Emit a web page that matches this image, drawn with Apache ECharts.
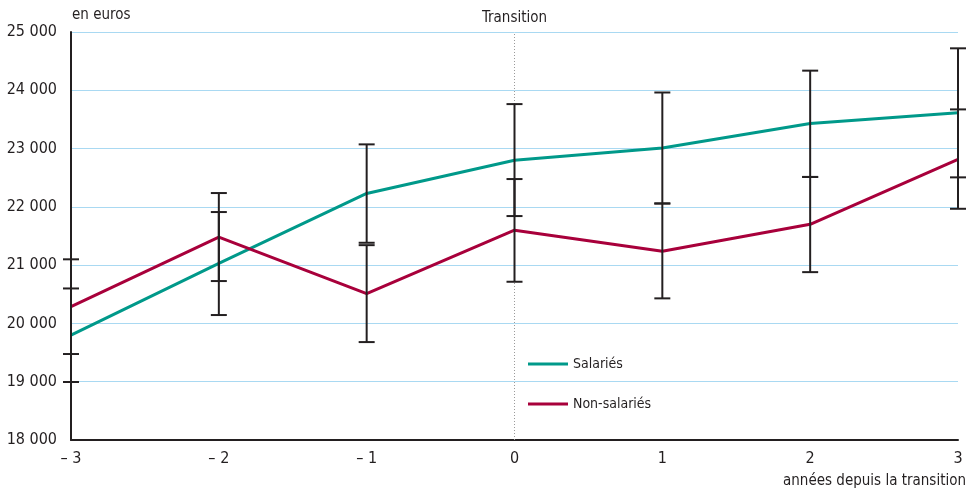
<!DOCTYPE html>
<html>
<head>
<meta charset="utf-8">
<script src="https://cdn.jsdelivr.net/npm/echarts@6/dist/echarts.min.js"></script>
<style>html,body{margin:0;padding:0;background:#fff}#chart{width:974px;height:491px}</style>
</head>
<body>
<div id="chart"></div>
<script>
var xs = [-3, -2, -1, 0, 1, 2, 3];
var salaries = [19800, 21030, 22230, 22800, 23010, 23430, 23614];
var nonSalaries = [20290, 21480, 20510, 21600, 21240, 21700, 22815];
var salLow = [18995, 20144, 21384, 21842, 22058, 22513, 22506];
var salHigh = [20600, 21911, 23072, 23763, 23962, 24337, 24720];
var nonLow = [19475, 20727, 19680, 20715, 20430, 20880, 21967];
var nonHigh = [21100, 22237, 21343, 22477, 22058, 22513, 23672];
var yTicks = [18000, 19000, 20000, 21000, 22000, 23000, 24000, 25000];

var FONT = "'Liberation Sans Narrow', 'DejaVu Sans Condensed', 'Liberation Sans', sans-serif";
var INK = '#231f20';

var chart = echarts.init(document.getElementById('chart'));

function pairs(vals) { return xs.map(function (x, i) { return [x, vals[i]]; }); }
function bars(lo, hi) { return xs.map(function (x, i) { return [x, lo[i], hi[i]]; }); }

function renderErr(params, api) {
  var x = api.value(0);
  var lo = api.coord([x, api.value(1)]);
  var hi = api.coord([x, api.value(2)]);
  var w = 8;
  var st = { stroke: INK, lineWidth: 2 };
  return {
    type: 'group',
    children: [
      { type: 'line', shape: { x1: lo[0], y1: lo[1], x2: hi[0], y2: hi[1] }, style: st },
      { type: 'line', shape: { x1: lo[0] - w, y1: lo[1], x2: lo[0] + w, y2: lo[1] }, style: st },
      { type: 'line', shape: { x1: hi[0] - w, y1: hi[1], x2: hi[0] + w, y2: hi[1] }, style: st }
    ]
  };
}

var option = {
  animation: false,
  textStyle: { fontFamily: FONT },
  grid: { left: 71, right: 16, top: 32, bottom: 51, containLabel: false },
  legend: {
    data: ['Salariés', 'Non-salariés'],
    orient: 'vertical',
    left: 523,
    top: 352,
    icon: 'rect',
    itemWidth: 40,
    itemHeight: 3,
    itemGap: 26,
    textStyle: { fontFamily: FONT, fontSize: 14, color: INK }
  },
  xAxis: {
    type: 'value',
    min: -3, max: 3, interval: 1,
    axisLine: { show: true, onZero: false, lineStyle: { color: INK, width: 2 } },
    axisTick: { show: false },
    splitLine: { show: false },
    axisLabel: {
      margin: 11,
      fontFamily: FONT, fontSize: 16, color: INK,
      formatter: function (v) { return v < 0 ? '\u2013 ' + (-v) : String(v); }
    }
  },
  yAxis: {
    type: 'value',
    min: yTicks[0], max: yTicks[yTicks.length - 1], interval: 1000,
    axisLine: { show: true, onZero: false, lineStyle: { color: INK, width: 2 } },
    axisTick: { show: false },
    splitLine: { show: true, lineStyle: { color: '#a9d9f2', width: 1 } },
    axisLabel: {
      margin: 14,
      fontFamily: FONT, fontSize: 16, color: INK,
      formatter: function (v) { return String(v).replace(/\B(?=(\d{3})+(?!\d))/g, ' '); }
    }
  },
  graphic: [
    { type: 'text', left: 72, top: 8, style: { text: 'en euros', font: '15px ' + FONT, fill: INK } },
    { type: 'text', right: 8, top: 474, style: { text: 'années depuis la transition', font: '15px ' + FONT, fill: INK } }
  ],
  series: [
    {
      name: 'Salariés', type: 'line', data: pairs(salaries),
      symbol: 'none', lineStyle: { color: '#00998a', width: 3 }, itemStyle: { color: '#00998a' }, z: 3,
      markLine: {
        silent: true, symbol: ['none', 'none'], z: 1,
        lineStyle: { color: '#9a9a9a', type: [1, 2], width: 1, opacity: 1 },
        emphasis: { disabled: true },
        label: { show: true, position: 'end', formatter: 'Transition', fontFamily: FONT, fontSize: 15, color: INK, distance: 6 },
        data: [{ xAxis: 0 }]
      }
    },
    {
      name: 'Non-salariés', type: 'line', data: pairs(nonSalaries),
      symbol: 'none', lineStyle: { color: '#a8003b', width: 3 }, itemStyle: { color: '#a8003b' }, z: 3
    },
    { name: 'errSal', type: 'custom', renderItem: renderErr, data: bars(salLow, salHigh), z: 5, clip: false },
    { name: 'errNon', type: 'custom', renderItem: renderErr, data: bars(nonLow, nonHigh), z: 5, clip: false }
  ]
};
chart.setOption(option);
</script>
</body>
</html>
